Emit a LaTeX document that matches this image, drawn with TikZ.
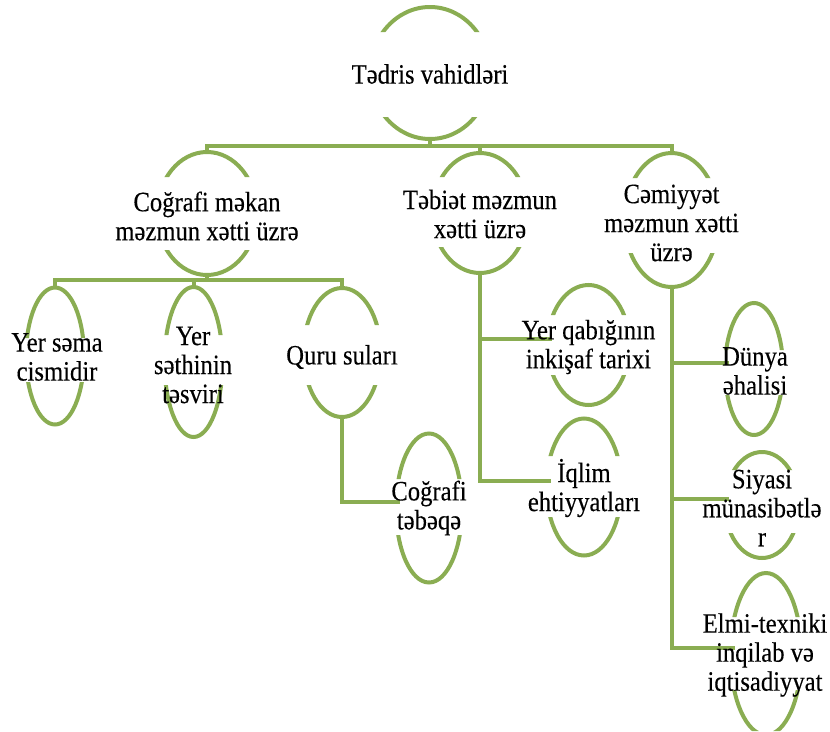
\documentclass[tikz,border=0pt]{standalone}
\usepackage{fontspec}
\setmainfont[FakeStretch=0.88,FakeBold=0.25]{Liberation Serif}
\usepackage{tikz}
\usetikzlibrary{calc,shapes.geometric}
\definecolor{leaf}{HTML}{8AAD52}
\tikzset{
    rimshape/.style={draw=leaf,ellipse,line width=4pt,inner sep=0pt,outer sep=0pt},
    unitlabel/.style={inner sep=0pt,align=center,text=black,
      font=\fontsize{28}{29}\selectfont},
    branch/.style={draw=leaf,line width=4pt,line join=miter}
}
% ellipse with its sides hidden between two heights
\newcommand{\rimnode}[6]{%
  \begin{scope}
    \clip (0,0) rectangle (830,#5) (0,#6) rectangle (830,731);
    \node[rimshape,minimum width=#3,minimum height=#4] (#1) at #2 {};
  \end{scope}}

\begin{document}
\begin{tikzpicture}[x=1pt,y=-1pt]
    \useasboundingbox (0,0) rectangle (830,731);
    \rimnode{root}{(430,73)}{120}{132}{32}{117}
    \rimnode{geo}{(207,213.5)}{100}{123}{177}{250}
    \rimnode{nat}{(480,213)}{95}{120}{177}{247}
    \rimnode{soc}{(671.5,220)}{94}{134}{178}{253}
    \rimnode{sky}{(55,356)}{58}{137}{338}{382}
    \rimnode{relief}{(193.5,362)}{58}{150}{335}{385}
    \rimnode{water}{(342,352.5)}{77}{129}{325}{385}
    \rimnode{layer}{(429,508)}{66}{149}{479}{535}
    \rimnode{crust}{(588.5,345)}{82}{120}{315}{375}
    \rimnode{climate}{(584,487)}{75}{137}{456}{517}
    \rimnode{people}{(754,369)}{58}{132}{350}{395}
    \rimnode{politics}{(762,505)}{74}{106}{470}{533}
    \rimnode{science}{(766,654)}{71}{162}{617}{690}
    \coordinate (topbar) at (0,146);
    \coordinate (geobar) at (0,280);
    \draw[branch] (root.south) -- (root.south |- topbar);
    \draw[branch] (geo.north) -- (geo.north |- topbar) -- (soc.north |- topbar) -- (soc.north);
    \draw[branch] (nat.north) -- (nat.north |- topbar);
    \draw[branch] (geo.south) -- (geo.south |- geobar);
    \draw[branch] (sky.north) -- (sky.north |- geobar) -- (water.north |- geobar) -- (water.north);
    \draw[branch] (relief.north) -- (relief.north |- geobar);
    \foreach \from/\to in {water/layer,nat/crust,nat/climate,soc/people,soc/politics,soc/science}
        \draw[branch] (\from.south) |- ([xshift=4pt,yshift=6pt]\to.west);
    \node[unitlabel] (rootT) at (430,74) {Tədris vahidləri};
    \node[unitlabel] (geoT) at (207,216) {Coğrafi məkan\\məzmun xətti üzrə};
    \node[unitlabel] (natT) at (480,214) {Təbiət məzmun\\xətti üzrə};
    \node[unitlabel] (socT) at (671.5,223) {Cəmiyyət\\məzmun xətti\\üzrə};
    \node[unitlabel] (skyT) at (57,357) {Yer səma\\cismidir};
    \node[unitlabel] (reliefT) at (193,365) {Yer\\səthinin\\təsviri};
    \node[unitlabel] (waterT) at (342,357) {Quru suları};
    \node[unitlabel] (layerT) at (429,508) {Coğrafi\\təbəqə};
    \node[unitlabel] (crustT) at (588.5,347) {Yer qabığının\\inkişaf tarixi};
    \node[unitlabel] (climateT) at (584,488) {İqlim\\ehtiyyatları};
    \node[unitlabel] (peopleT) at (755,371) {Dünya\\əhalisi};
    \node[unitlabel] (politicsT) at (762,508) {Siyasi\\münasibətlə\\r};
    \node[unitlabel] (scienceT) at (765,655) {Elmi-texniki\\inqilab və\\iqtisadiyyat};
\end{tikzpicture}
\end{document}
